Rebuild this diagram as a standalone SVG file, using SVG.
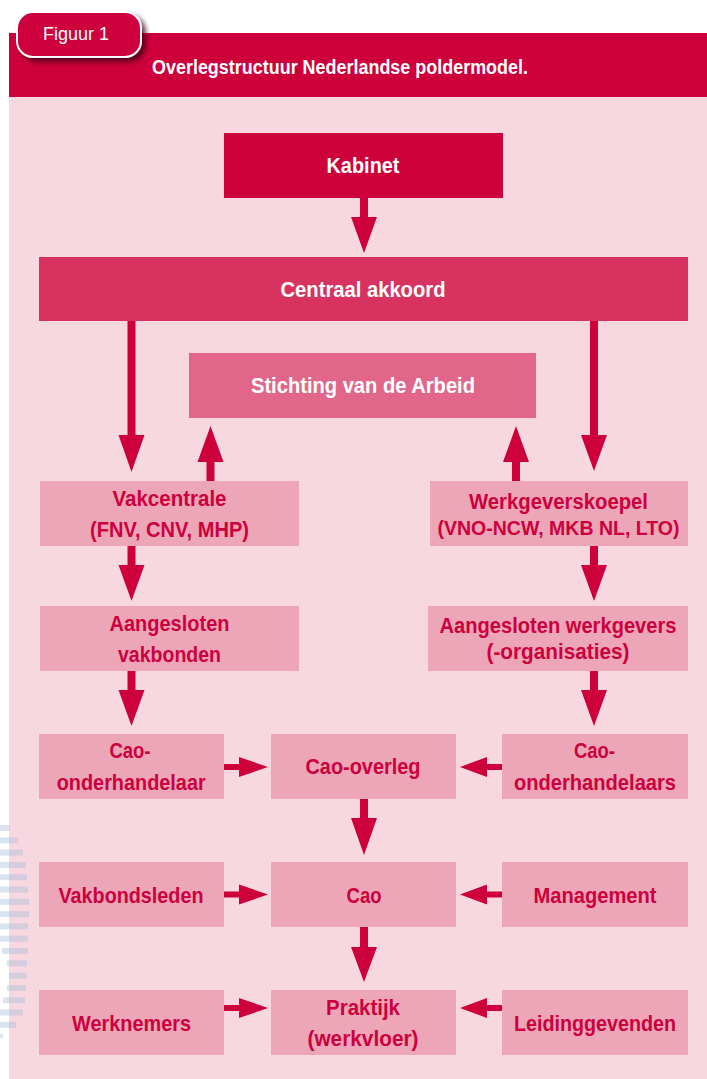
<svg xmlns="http://www.w3.org/2000/svg" width="707" height="1079" viewBox="0 0 707 1079">
<defs>
<style>
.t{font-family:"Liberation Sans",Arial,sans-serif;font-weight:bold;font-size:22px;text-anchor:middle}
.w{fill:#FFFFFF}
.d{fill:#CC003D}
.lb{fill:#EDA5B8}
.ar{fill:#CE003C}
.st{fill:#A3BCDA;fill-opacity:0.4}
</style>
<filter id="sh" x="-20%" y="-30%" width="150%" height="170%">
<feDropShadow dx="4" dy="4" stdDeviation="2.5" flood-color="#3a0010" flood-opacity="0.75"/>
</filter>
</defs>
<rect x="0" y="0" width="707" height="1079" fill="#FFFFFF"/>
<rect x="9" y="97" width="698" height="982" fill="#F7D8E0"/>
<rect x="9" y="33" width="698" height="64" fill="#CE003C"/>
<g id="stripes">
<rect class="st" x="0" y="825" width="10" height="6"/>
<rect class="st" x="0" y="837.3" width="18" height="6"/>
<rect class="st" x="0" y="849.6" width="23" height="6"/>
<rect class="st" x="0" y="861.9" width="26" height="6"/>
<rect class="st" x="0" y="874.2" width="27" height="6"/>
<rect class="st" x="0" y="886.5" width="28" height="6"/>
<rect class="st" x="0" y="898.8" width="29" height="6"/>
<rect class="st" x="0" y="911.1" width="29" height="6"/>
<rect class="st" x="0" y="923.4" width="28" height="6"/>
<rect class="st" x="0" y="935.7" width="28" height="6"/>
<rect class="st" x="2" y="948" width="26" height="6"/>
<rect class="st" x="7" y="960.3" width="20" height="6"/>
<rect class="st" x="9" y="972.6" width="18" height="6"/>
<rect class="st" x="7" y="984.9" width="19" height="6"/>
<rect class="st" x="3" y="997.2" width="22" height="6"/>
<rect class="st" x="0" y="1009.5" width="23" height="6"/>
<rect class="st" x="0" y="1021.8" width="16" height="6"/>
<rect class="st" x="0" y="1034.1" width="3" height="4"/>
</g>
<g id="tab">
<rect x="17" y="12" width="124" height="45" rx="16" ry="16" fill="#CE003C" stroke="#FFFFFF" stroke-width="2" filter="url(#sh)"/>
<text x="43" y="40" font-family="Liberation Sans,Arial,sans-serif" font-size="18" fill="#FFFFFF" textLength="66" lengthAdjust="spacingAndGlyphs">Figuur 1</text>
</g>
<text id="title" x="152" y="74" font-family="Liberation Sans,Arial,sans-serif" font-weight="bold" font-size="19.5" fill="#FFFFFF" textLength="376" lengthAdjust="spacingAndGlyphs">Overlegstructuur Nederlandse poldermodel.</text>

<g id="connectors">
<path class="ar" d="M360,198 H368 V217 H377 L364,253 L351,217 H360 Z"/>
<path class="ar" d="M127.5,321 H135.5 V435 H144.5 L131.5,472 L118.5,435 H127.5 Z"/>
<path class="ar" d="M590,321 H598 V435 H607 L594,471 L581,435 H590 Z"/>
<path class="ar" d="M206.5,481 H214.5 V462 H223.5 L210.5,426 L197.5,462 H206.5 Z"/>
<path class="ar" d="M512,481 H520 V462 H529 L516,426 L503,462 H512 Z"/>
<path class="ar" d="M127.5,546 H135.5 V565 H144.5 L131.5,601 L118.5,565 H127.5 Z"/>
<path class="ar" d="M590,546 H598 V565 H607 L594,601 L581,565 H590 Z"/>
<path class="ar" d="M127.5,671 H135.5 V690 H144.5 L131.5,726 L118.5,690 H127.5 Z"/>
<path class="ar" d="M590,671 H598 V690 H607 L594,726 L581,690 H590 Z"/>
<path class="ar" d="M360,799 H368 V818 H377 L364,855 L351,818 H360 Z"/>
<path class="ar" d="M360,927 H368 V947 H377 L364,982 L351,947 H360 Z"/>
<path class="ar" d="M224,764 H239 V757 L268,767 L239,777 V770 H224 Z"/>
<path class="ar" d="M502,764 H487 V757 L460,767 L487,777 V770 H502 Z"/>
<path class="ar" d="M224,891.5 H239 V884.5 L268,894.5 L239,904.5 V897.5 H224 Z"/>
<path class="ar" d="M502,891.5 H487 V884.5 L460,894.5 L487,904.5 V897.5 H502 Z"/>
<path class="ar" d="M224,1005 H239 V998 L268,1008 L239,1018 V1011 H224 Z"/>
<path class="ar" d="M502,1005 H487 V998 L460,1008 L487,1018 V1011 H502 Z"/>
</g>

<g id="kabinet">
<rect x="224" y="133" width="279" height="65" fill="#CE003C"/>
<text class="t w" x="363" y="173" textLength="73" lengthAdjust="spacingAndGlyphs">Kabinet</text>
</g>
<g id="centraal-akkoord">
<rect x="39" y="257" width="649" height="64" fill="#D83360"/>
<text class="t w" x="363" y="297" textLength="165" lengthAdjust="spacingAndGlyphs">Centraal akkoord</text>
</g>
<g id="stichting">
<rect x="189" y="353" width="347" height="65" fill="#E1668A"/>
<text class="t w" x="363" y="393" textLength="224" lengthAdjust="spacingAndGlyphs">Stichting van de Arbeid</text>
</g>
<g id="vakcentrale">
<rect class="lb" x="40" y="481" width="259" height="65"/>
<text class="t d" x="169.5" y="506" textLength="114" lengthAdjust="spacingAndGlyphs">Vakcentrale</text>
<text class="t d" x="169.5" y="537" textLength="159" lengthAdjust="spacingAndGlyphs">(FNV, CNV, MHP)</text>
</g>
<g id="werkgeverskoepel">
<rect class="lb" x="430" y="481" width="258" height="65"/>
<text class="t d" x="558.5" y="509" textLength="179" lengthAdjust="spacingAndGlyphs">Werkgeverskoepel</text>
<text class="t d" x="558.5" y="535" font-size="20" textLength="242" lengthAdjust="spacingAndGlyphs" style="font-size:20px">(VNO-NCW, MKB NL, LTO)</text>
</g>
<g id="aangesloten-vakbonden">
<rect class="lb" x="40" y="606" width="259" height="65"/>
<text class="t d" x="169.5" y="631" textLength="120" lengthAdjust="spacingAndGlyphs">Aangesloten</text>
<text class="t d" x="169.5" y="662" textLength="103" lengthAdjust="spacingAndGlyphs">vakbonden</text>
</g>
<g id="aangesloten-werkgevers">
<rect class="lb" x="428" y="606" width="260" height="65"/>
<text class="t d" x="558" y="633" textLength="237" lengthAdjust="spacingAndGlyphs">Aangesloten werkgevers</text>
<text class="t d" x="558" y="659" textLength="143" lengthAdjust="spacingAndGlyphs">(-organisaties)</text>
</g>
<g id="cao-onderhandelaar">
<rect class="lb" x="39" y="734" width="185" height="65"/>
<text class="t d" x="130" y="758" textLength="41" lengthAdjust="spacingAndGlyphs">Cao-</text>
<text class="t d" x="131.2" y="790" textLength="149" lengthAdjust="spacingAndGlyphs">onderhandelaar</text>
</g>
<g id="cao-overleg">
<rect class="lb" x="271" y="734" width="185" height="65"/>
<text class="t d" x="363" y="774" textLength="115" lengthAdjust="spacingAndGlyphs">Cao-overleg</text>
</g>
<g id="cao-onderhandelaars">
<rect class="lb" x="502" y="734" width="186" height="65"/>
<text class="t d" x="594.5" y="758" textLength="41" lengthAdjust="spacingAndGlyphs">Cao-</text>
<text class="t d" x="595" y="790" textLength="162" lengthAdjust="spacingAndGlyphs">onderhandelaars</text>
</g>
<g id="vakbondsleden">
<rect class="lb" x="39" y="862" width="185" height="65"/>
<text class="t d" x="131" y="903" textLength="145" lengthAdjust="spacingAndGlyphs">Vakbondsleden</text>
</g>
<g id="cao">
<rect class="lb" x="271" y="862" width="185" height="65"/>
<text class="t d" x="364" y="903" textLength="35" lengthAdjust="spacingAndGlyphs">Cao</text>
</g>
<g id="management">
<rect class="lb" x="502" y="862" width="186" height="65"/>
<text class="t d" x="595" y="903" textLength="123" lengthAdjust="spacingAndGlyphs">Management</text>
</g>
<g id="werknemers">
<rect class="lb" x="39" y="990" width="185" height="65"/>
<text class="t d" x="131.5" y="1031" textLength="119" lengthAdjust="spacingAndGlyphs">Werknemers</text>
</g>
<g id="praktijk">
<rect class="lb" x="271" y="990" width="185" height="65"/>
<text class="t d" x="363" y="1015" textLength="74" lengthAdjust="spacingAndGlyphs">Praktijk</text>
<text class="t d" x="363" y="1046" textLength="111" lengthAdjust="spacingAndGlyphs">(werkvloer)</text>
</g>
<g id="leidinggevenden">
<rect class="lb" x="502" y="990" width="186" height="65"/>
<text class="t d" x="595" y="1031" textLength="162" lengthAdjust="spacingAndGlyphs">Leidinggevenden</text>
</g>
</svg>
